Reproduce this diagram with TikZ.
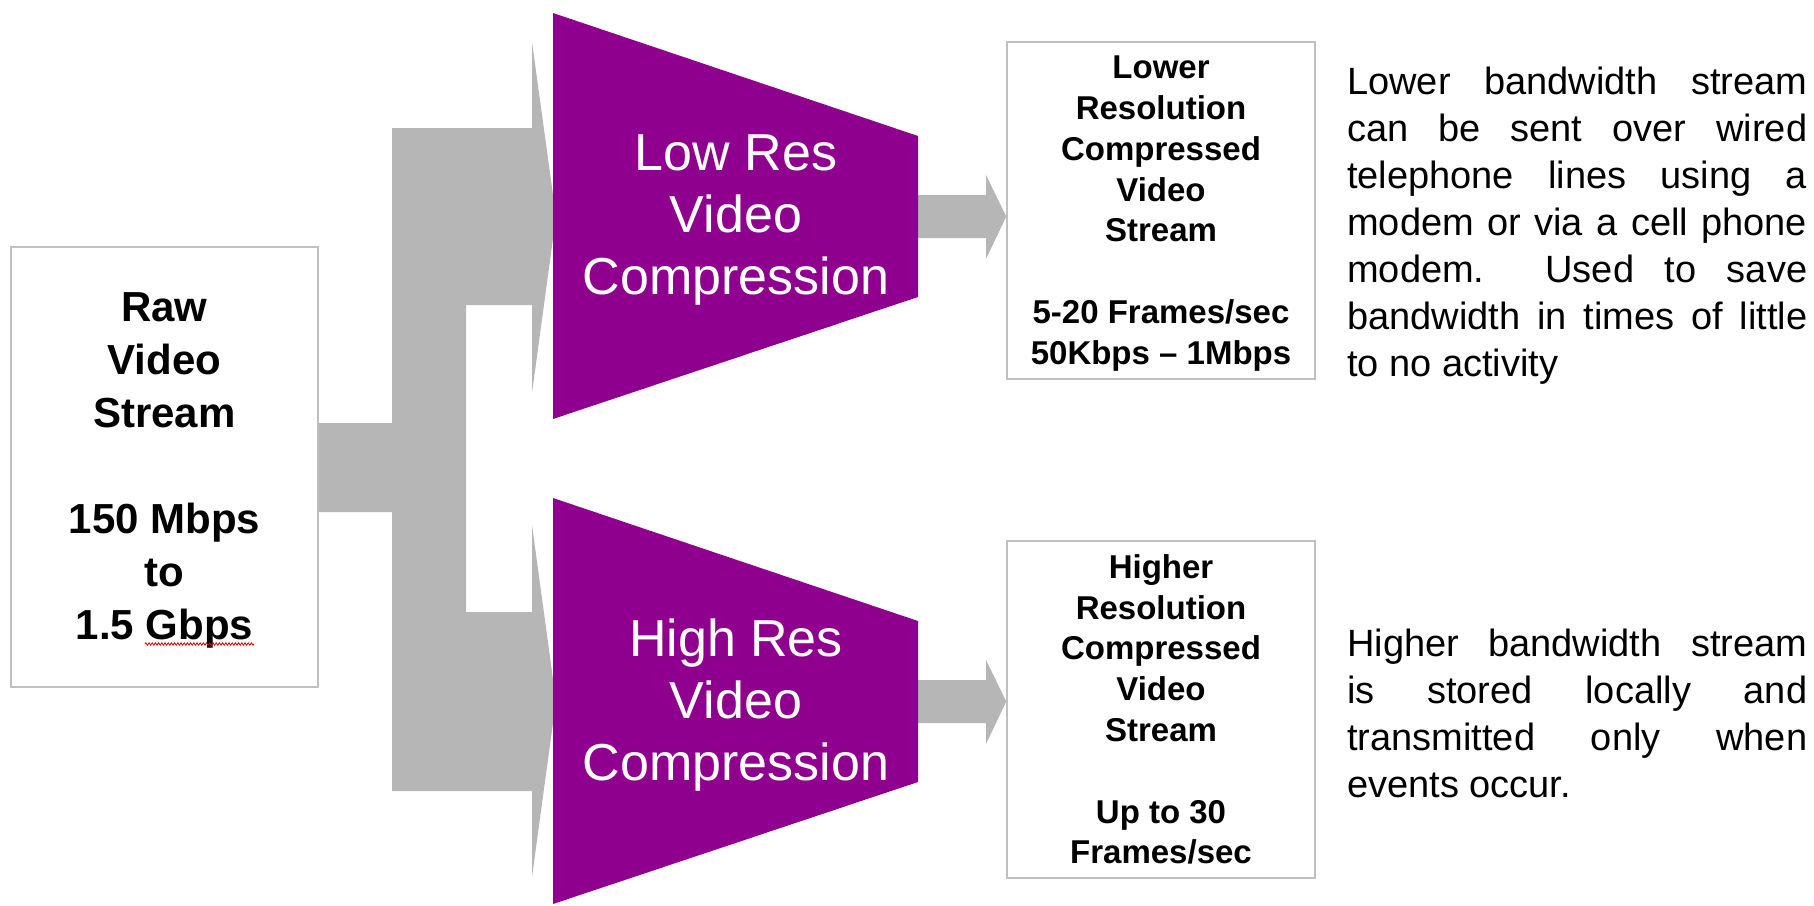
\documentclass[tikz,border=0pt]{standalone}
\usepackage{fontspec}
\setmainfont{Liberation Sans}
\usetikzlibrary{calc,decorations.pathmorphing}
\definecolor{compPurple}{RGB}{143,0,143}
\definecolor{flowGray}{RGB}{182,182,182}
\definecolor{frameGray}{RGB}{192,192,192}
\begin{document}
\begin{tikzpicture}[x=1pt,y=-1pt,
  stagebox/.style={draw=frameGray, line width=1.5pt, fill=white, inner sep=0pt},
  boxtext/.style={align=center, inner sep=0pt, font=\bfseries\fontsize{33}{40.8}\selectfont},
  rawtext/.style={align=center, inner sep=0pt, font=\bfseries\fontsize{42}{53}\selectfont},
  comptext/.style={text=white, align=center, inner sep=0pt, font=\fontsize{52}{62}\selectfont},
  notetext/.style={anchor=north west, inner sep=0pt, align=left, font=\fontsize{38}{47}\selectfont},
  flow/.style={fill=flowGray}]
\useasboundingbox (0,0) rectangle (1814,905);

% source box
\node[stagebox, minimum width=307pt, minimum height=440pt] (raw) at (164.5,467) {};
\node[rawtext] (rawlabel) at (164.5,470.5)
  {Raw\\Video\\Stream\\[53pt]150 Mbps\\to\\1.5 Gbps};
\draw[red!85!black, line width=0.8pt, decorate,
  decoration={zigzag, amplitude=1.2pt, segment length=3.2pt}] (145,644) -- (254,644);

% splitting flow into the two compressors
\fill[flow] (raw.east |- 0,423) -- (392,423) -- (392,128) -- (532,128) -- (532,42)
  -- (556,216.5) -- (532,393) -- (532,305) -- (466,305) -- (466,612) -- (532,612)
  -- (532,525) -- (556,701) -- (532,877) -- (532,791) -- (392,791) -- (392,512)
  -- (raw.east |- 0,512) -- cycle;

% output boxes
\node[stagebox, minimum width=308pt, minimum height=337pt] (lowout) at (1161,210.5) {};
\node[boxtext] (lowoutlabel) at (1161,213.5)
  {Lower\\Resolution\\Compressed\\Video\\Stream\\[40.8pt]5-20 Frames/sec\\50Kbps – 1Mbps};
\node[stagebox, minimum width=308pt, minimum height=337pt] (highout) at (1161,709.5) {};
\node[boxtext] (highoutlabel) at (1161,709.5)
  {Higher\\Resolution\\Compressed\\Video\\Stream\\[40.8pt]Up to 30\\Frames/sec};

% compressor outputs
\coordinate (lowR) at (918,216.5);
\coordinate (highR) at (918,701.5);
\foreach \c/\b in {lowR/lowout, highR/highout}{
  \fill[flow] ($(\c)+(-4,-21.5)$) -- ($(\c)+(68,-21.5)$) -- ($(\c)+(68,-41.5)$)
    -- (\c -| \b.west) -- ($(\c)+(68,42.5)$) -- ($(\c)+(68,21.5)$)
    -- ($(\c)+(-4,21.5)$) -- cycle;
}

% compressors
\fill[compPurple] (553,13) -- (918,136) -- (918,297) -- (553,419) -- cycle;
\node[comptext] (lowres) at (736,220.5) {Low Res\\Video\\Compression};
\fill[compPurple] (553,498) -- (918,621) -- (918,782) -- (553,904) -- cycle;
\node[comptext] (highres) at (736,705.5) {High Res\\Video\\Compression};

% notes
\node[notetext] (lownote) at (1347,66.5)
  {\makebox[460pt][s]{Lower bandwidth stream}\\
   \makebox[460pt][s]{can be sent over wired}\\
   \makebox[460pt][s]{telephone lines using a}\\
   \makebox[460pt][s]{modem or via a cell phone}\\
   \makebox[460pt][s]{modem.\ \ Used to save}\\
   \makebox[460pt][s]{bandwidth in times of little}\\
   to no activity};
\node[notetext] (highnote) at (1347,629)
  {\makebox[460pt][s]{Higher bandwidth stream}\\
   \makebox[460pt][s]{is stored locally and}\\
   \makebox[460pt][s]{transmitted only when}\\
   events occur.};
\end{tikzpicture}
\end{document}
